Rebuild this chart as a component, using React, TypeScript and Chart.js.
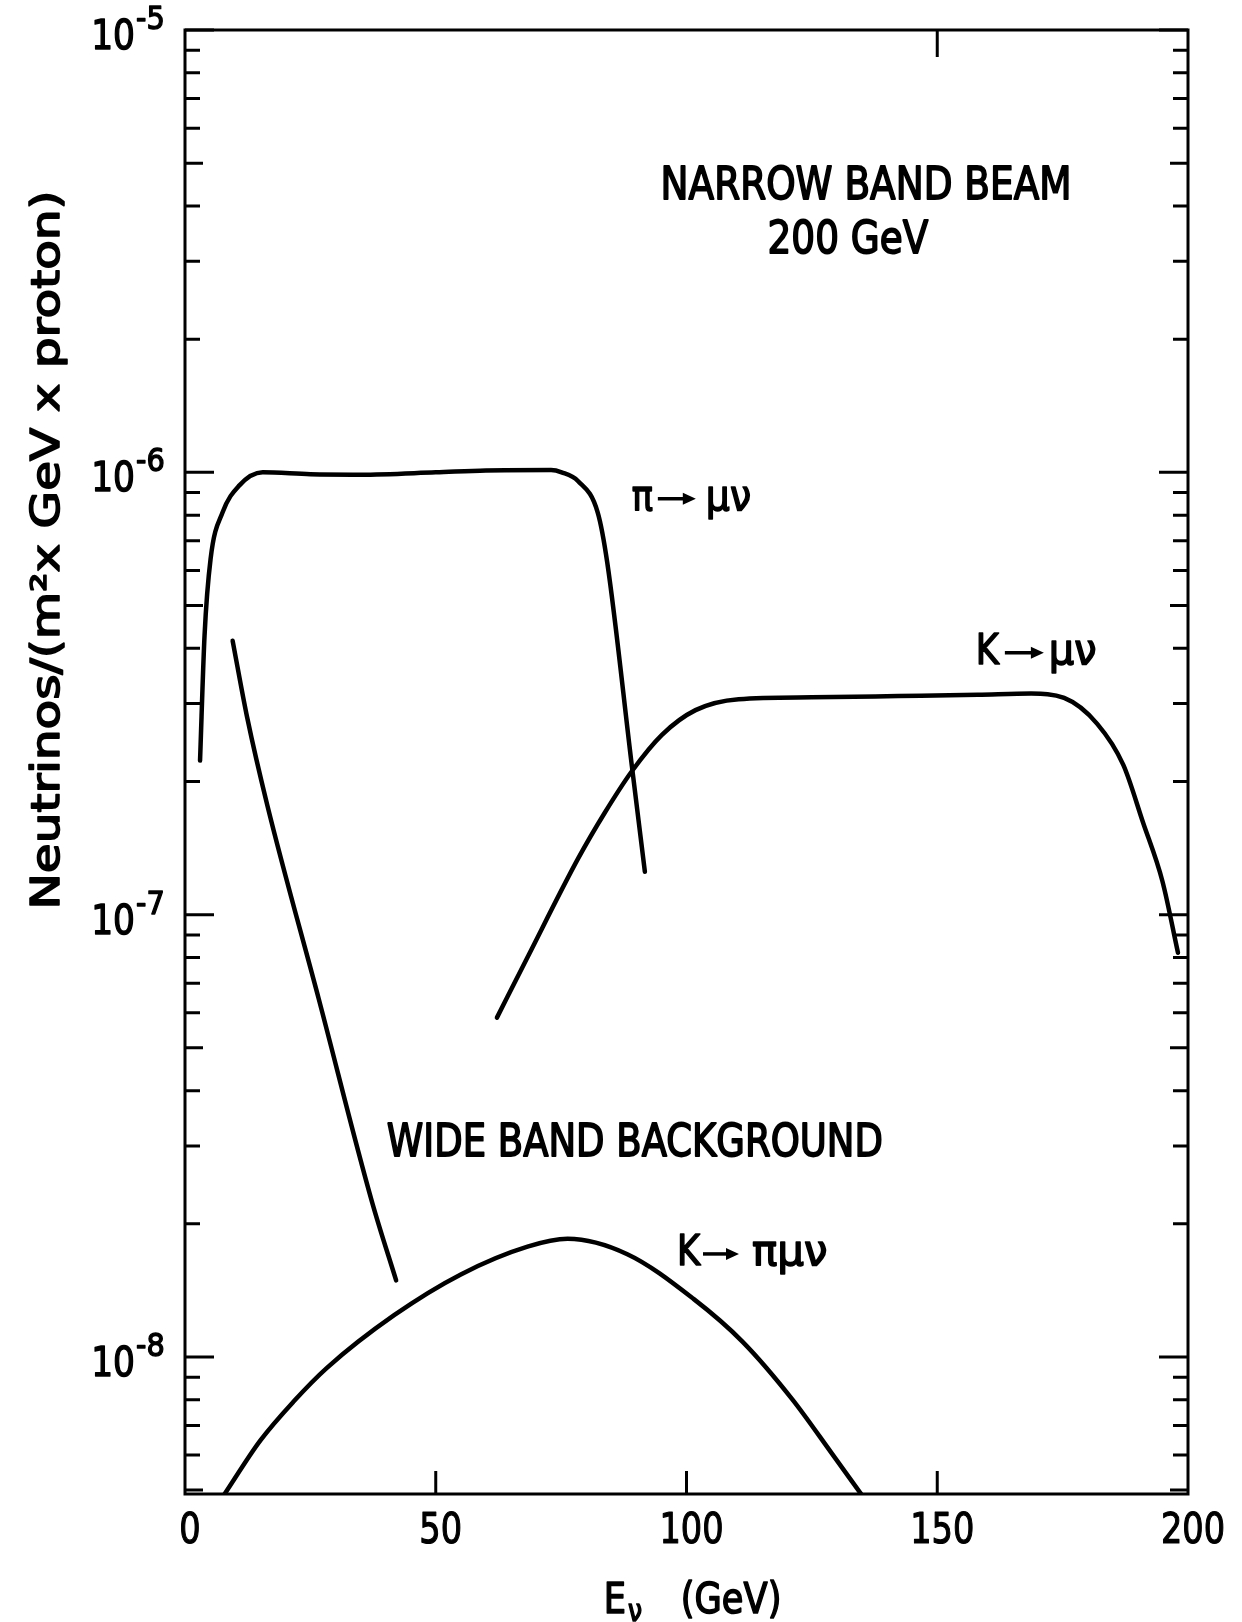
import { useEffect, useRef } from 'react';
import { Chart, registerables } from 'chart.js';

Chart.register(...registerables);

// ---- data (E in GeV, flux in neutrinos/(m^2 GeV proton)) ----
const PI_ENERGY = [3.0, 3.9, 5.1, 7.5, 10.8, 15.5, 25, 35, 50, 60, 73, 75.1, 78.4, 82.3, 84.2, 89.1, 91.7];
const PI_FLUX = [2.23e-7, 4.28e-7, 6.37e-7, 8.12e-7, 9.33e-7, 1.0e-6, 0.99e-6, 0.988e-6, 1.0e-6, 1.01e-6, 1.012e-6, 1.0e-6, 9.55e-7, 8.11e-7, 6.25e-7, 2.17e-7, 1.25e-7];

const K_ENERGY = [62.2, 68.2, 78.4, 83.7, 89.1, 95.1, 101.8, 110.4, 125, 142.2, 158.1, 168.7, 175.3, 181.9, 187.1, 191.0, 194.9, 198.0];
const K_FLUX = [5.85e-8, 7.97e-8, 1.34e-7, 1.7e-7, 2.11e-7, 2.55e-7, 2.9e-7, 3.07e-7, 3.1e-7, 3.12e-7, 3.14e-7, 3.16e-7, 3.09e-7, 2.7e-7, 2.18e-7, 1.62e-7, 1.19e-7, 8.2e-8];

const KPI_ENERGY = [7.9, 15.0, 21.7, 28.3, 41.7, 55.0, 68.3, 76.3, 88.2, 101.4, 111.2, 121.1, 128.9, 135.1];
const KPI_FLUX = [4.9e-9, 6.47e-9, 7.94e-9, 9.45e-9, 1.243e-8, 1.537e-8, 1.776e-8, 1.85e-8, 1.707e-8, 1.353e-8, 1.082e-8, 8.02e-9, 6.07e-9, 4.85e-9];

const WB_ENERGY = [9.5, 12.4, 16.4, 26.7, 37.3, 42.1];
const WB_FLUX = [4.16e-7, 2.79e-7, 1.77e-7, 6.43e-8, 2.24e-8, 1.49e-8];

const X_TICKS = [0, 50, 100, 150, 200];
const X_TICK_LABELS = ['0', '50', '100', '150', '200'];
const Y_DECADES = [-8, -7, -6, -5];
const Y_DECADE_LABELS = ['-8', '-7', '-6', '-5'];

const X_MIN = 0;
const X_MAX = 200;
const Y_MIN = 4.9e-9;
const Y_MAX = 1e-5;

const FONT = '"DejaVu Sans", sans-serif';
const SX = 0.84;

function toPoints(xs: number[], ys: number[]) {
  return xs.map((x, i) => ({ x, y: ys[i] }));
}

function drawText(
  ctx: CanvasRenderingContext2D,
  text: string,
  x: number,
  y: number,
  size: number,
  align: 'left' | 'center' | 'right' = 'left',
  sx: number = SX,
  weight: number = 1.6
) {
  ctx.save();
  ctx.font = `${size}px ${FONT}`;
  const w = ctx.measureText(text).width * sx;
  let left = x;
  if (align === 'center') left = x - w / 2;
  else if (align === 'right') left = x - w;
  ctx.translate(left, y);
  ctx.scale(sx, 1);
  ctx.textAlign = 'left';
  ctx.textBaseline = 'alphabetic';
  ctx.fillStyle = '#000';
  ctx.strokeStyle = '#000';
  ctx.lineJoin = 'round';
  ctx.fillText(text, 0, 0);
  if (weight > 0) {
    ctx.lineWidth = weight;
    ctx.strokeText(text, 0, 0);
  }
  ctx.restore();
  return w;
}

function drawArrow(ctx: CanvasRenderingContext2D, x1: number, x2: number, y: number) {
  ctx.save();
  ctx.strokeStyle = '#000';
  ctx.fillStyle = '#000';
  ctx.lineWidth = 3.5;
  ctx.beginPath();
  ctx.moveTo(x1, y);
  ctx.lineTo(x2 - 8, y);
  ctx.stroke();
  ctx.beginPath();
  ctx.moveTo(x2, y);
  ctx.lineTo(x2 - 13, y - 6);
  ctx.lineTo(x2 - 13, y + 6);
  ctx.closePath();
  ctx.fill();
  ctx.restore();
}

const paperPlugin = {
  id: 'paper',
  beforeDraw(chart: any) {
    const { ctx } = chart;
    ctx.save();
    ctx.fillStyle = '#fff';
    ctx.fillRect(0, 0, chart.width, chart.height);
    ctx.restore();
  },
  afterDatasetsDraw(chart: any) {
    const { ctx, chartArea: a } = chart;
    const xs = chart.scales.x;
    const ys = chart.scales.y;
    ctx.save();
    ctx.strokeStyle = '#000';
    ctx.fillStyle = '#000';
    ctx.lineCap = 'butt';

    // frame
    ctx.lineWidth = 3;
    ctx.strokeRect(a.left, a.top, a.right - a.left, a.bottom - a.top);

    // log ticks on left and right axes (inward)
    ctx.lineWidth = 3;
    for (let d = -9; d <= -5; d++) {
      for (let m = 1; m <= 9; m++) {
        const v = m * Math.pow(10, d);
        if (v < Y_MIN * 0.999 || v > Y_MAX * 1.001) continue;
        const y = ys.getPixelForValue(v);
        const len = m === 1 ? 29 : m === 5 ? 18 : 15;
        ctx.beginPath();
        ctx.moveTo(a.left, y);
        ctx.lineTo(a.left + len, y);
        ctx.moveTo(a.right, y);
        ctx.lineTo(a.right - len, y);
        ctx.stroke();
      }
    }

    // x ticks (inward) on bottom, one on top
    X_TICKS.forEach((t) => {
      if (t === X_MIN || t === X_MAX) return;
      const x = xs.getPixelForValue(t);
      ctx.beginPath();
      ctx.moveTo(x, a.bottom);
      ctx.lineTo(x, a.bottom - 23);
      ctx.stroke();
    });
    {
      const x = xs.getPixelForValue(150);
      ctx.beginPath();
      ctx.moveTo(x, a.top);
      ctx.lineTo(x, a.top + 27);
      ctx.stroke();
    }

    // x tick labels
    X_TICKS.forEach((t, i) => {
      const x = xs.getPixelForValue(t) + 5;
      drawText(ctx, X_TICK_LABELS[i], x, a.bottom + 49, 42, 'center', 0.8, 1.2);
    });

    // y tick labels 10^n
    Y_DECADES.forEach((d, i) => {
      const y = ys.getPixelForValue(Math.pow(10, d));
      drawText(ctx, '10', a.left - 50, y + 19, 40, 'right', 0.86, 1.4);
      drawText(ctx, Y_DECADE_LABELS[i], a.left - 49, y - 1, 32, 'left', 0.9, 1.4);
    });

    // axis titles
    // x: E_nu (GeV)
    {
      const base = a.bottom + 119;
      const x0 = xs.getPixelForValue(83.5);
      const wE = drawText(ctx, 'E', x0, base, 42, 'left');
      drawText(ctx, '\u03bd', x0 + wE + 2, base + 8, 30, 'left');
      drawText(ctx, '(GeV)', x0 + 77, base, 42, 'left');
    }
    // y title (rotated)
    {
      ctx.save();
      ctx.translate(59, (a.top + a.bottom) / 2 - 212);
      ctx.rotate(-Math.PI / 2);
      const text = 'Neutrinos/(m\u00b2x GeV x proton)';
      ctx.font = `39px ${FONT}`;
      const w = ctx.measureText(text).width;
      const sx = 719 / w;
      drawText(ctx, text, 0, 0, 39, 'center', sx, 1.6);
      ctx.restore();
    }

    // annotations
    const px = (v: number) => xs.getPixelForValue(v);
    const py = (v: number) => ys.getPixelForValue(v);

    drawText(ctx, 'NARROW BAND BEAM', px(135.8), py(4.3e-6) + 7, 44, 'center', 0.85, 1.8);
    drawText(ctx, '200 GeV', px(132.2), py(3.24e-6) + 7, 44, 'center', 0.85, 1.8);
    drawText(ctx, 'WIDE BAND BACKGROUND', px(89.7), py(2.85e-8), 44, 'center', 0.84, 1.8);

    // pi -> mu nu
    {
      const x0 = px(89.1);
      const base = py(8.36e-7) + 3;
      drawText(ctx, '\u03c0', x0, base, 42, 'left');
      drawArrow(ctx, x0 + 26, x0 + 64, base - 11);
      drawText(ctx, '\u03bc\u03bd', x0 + 74, base, 42, 'left', 0.9);
    }
    // K -> mu nu
    {
      const x0 = px(157.7);
      const base = py(3.73e-7) + 2;
      drawText(ctx, 'K', x0, base, 42, 'left');
      drawArrow(ctx, x0 + 29, x0 + 68, base - 11);
      drawText(ctx, '\u03bc\u03bd', x0 + 73, base, 42, 'left', 0.95);
    }
    // K -> pi mu nu
    {
      const x0 = px(98.1);
      const base = py(1.64e-8) + 3;
      drawText(ctx, 'K', x0, base, 42, 'left');
      drawArrow(ctx, x0 + 26, x0 + 62, base - 11);
      drawText(ctx, '\u03c0\u03bc\u03bd', x0 + 75, base, 42, 'left', 1.0);
    }

    ctx.restore();
  },
};

export default function App() {
  const canvasRef = useRef<HTMLCanvasElement | null>(null);

  useEffect(() => {
    const canvas = canvasRef.current;
    if (!canvas) return;
    const lineStyle = {
      borderColor: '#000',
      borderWidth: 4.5,
      pointRadius: 0,
      pointHoverRadius: 0,
      fill: false,
      cubicInterpolationMode: 'monotone' as const,
      borderCapStyle: 'round' as const,
      borderJoinStyle: 'round' as const,
    };
    const chart = new Chart(canvas, {
      type: 'line',
      data: {
        datasets: [
          { label: '\u03c0 \u2192 \u03bc\u03bd', data: toPoints(PI_ENERGY, PI_FLUX), ...lineStyle },
          { label: 'K \u2192 \u03bc\u03bd', data: toPoints(K_ENERGY, K_FLUX), ...lineStyle },
          { label: 'K \u2192 \u03c0\u03bc\u03bd', data: toPoints(KPI_ENERGY, KPI_FLUX), ...lineStyle },
          { label: 'Wide band background', data: toPoints(WB_ENERGY, WB_FLUX), ...lineStyle },
        ],
      },
      options: {
        responsive: false,
        animation: false,
        devicePixelRatio: 1,
        parsing: false,
        layout: { padding: { left: 185, top: 30, right: 54, bottom: 128 } },
        plugins: {
          legend: { display: false },
          tooltip: { enabled: false },
          title: { display: false },
        },
        scales: {
          x: { type: 'linear', min: X_MIN, max: X_MAX, display: false },
          y: { type: 'logarithmic', min: Y_MIN, max: Y_MAX, display: false },
        },
        events: [],
      },
      plugins: [paperPlugin],
    });
    return () => chart.destroy();
  }, []);

  return (
    <div style={{ position: 'absolute', left: 0, top: 0, width: 1242, height: 1622, background: '#fff' }}>
      <canvas ref={canvasRef} width={1242} height={1622} style={{ display: 'block' }} />
    </div>
  );
}
